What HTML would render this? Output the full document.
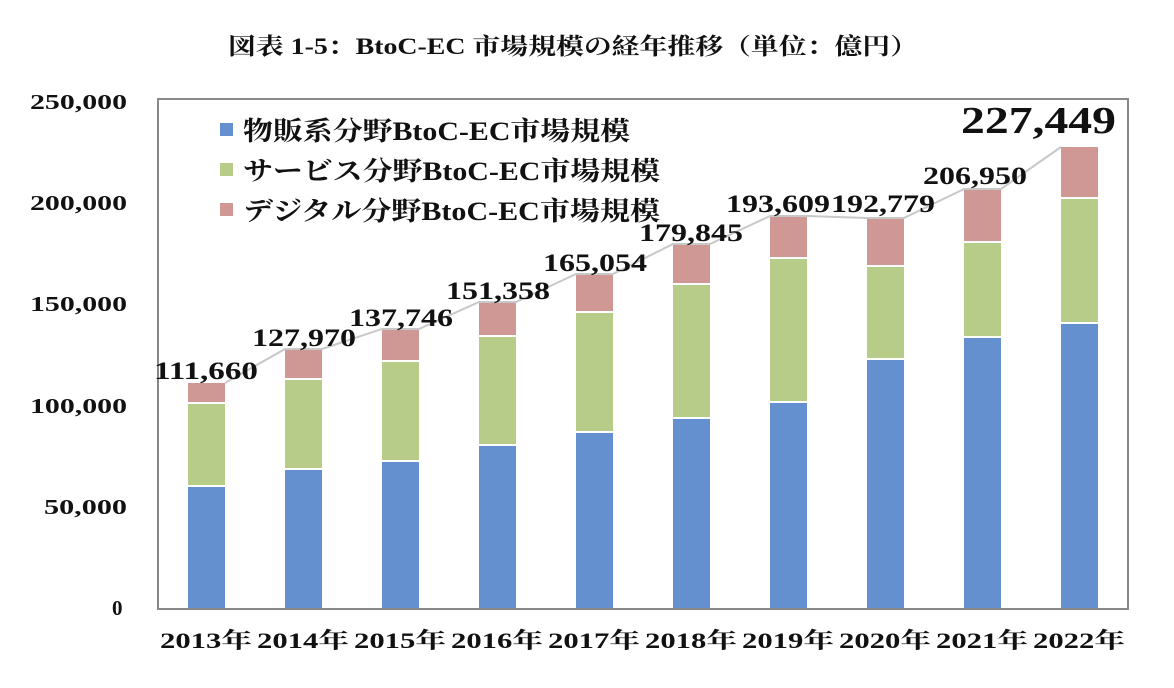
<!DOCTYPE html>
<html><head><meta charset="utf-8"><style>
html,body{margin:0;padding:0;background:#fff;}
svg{display:block;font-family:"Liberation Serif","Noto Serif CJK SC",serif;}
</style></head><body>
<svg width="1174" height="688" viewBox="0 0 1174 688" xmlns="http://www.w3.org/2000/svg">
<text x="228" y="54" textLength="690" lengthAdjust="spacingAndGlyphs" font-size="23" font-weight="bold" fill="#111">図表 1-5：BtoC-EC 市場規模の経年推移（単位：億円）</text>
<rect x="158" y="99" width="970" height="510" fill="none" stroke="#888" stroke-width="2"/>
<g font-size="21" font-weight="bold" fill="#111">
<text x="112" y="615">0</text>
<text x="44" y="514" textLength="83" lengthAdjust="spacingAndGlyphs">50,000</text>
<text x="30" y="413" textLength="97" lengthAdjust="spacingAndGlyphs">100,000</text>
<text x="30" y="311" textLength="97" lengthAdjust="spacingAndGlyphs">150,000</text>
<text x="30" y="210" textLength="97" lengthAdjust="spacingAndGlyphs">200,000</text>
<text x="30" y="109" textLength="97" lengthAdjust="spacingAndGlyphs">250,000</text>
</g>
<g>
<rect x="188" y="487" width="37" height="121" fill="#6490d0"/><rect x="188" y="404" width="37" height="81" fill="#b8cc8a"/><rect x="188" y="383" width="37" height="19" fill="#d09894"/>
<rect x="285" y="470" width="37" height="138" fill="#6490d0"/><rect x="285" y="380" width="37" height="88" fill="#b8cc8a"/><rect x="285" y="349" width="37" height="29" fill="#d09894"/>
<rect x="382" y="462" width="37" height="146" fill="#6490d0"/><rect x="382" y="362" width="37" height="98" fill="#b8cc8a"/><rect x="382" y="329" width="37" height="31" fill="#d09894"/>
<rect x="479" y="446" width="37" height="162" fill="#6490d0"/><rect x="479" y="337" width="37" height="107" fill="#b8cc8a"/><rect x="479" y="302" width="37" height="33" fill="#d09894"/>
<rect x="576" y="433" width="37" height="175" fill="#6490d0"/><rect x="576" y="313" width="37" height="118" fill="#b8cc8a"/><rect x="576" y="274" width="37" height="37" fill="#d09894"/>
<rect x="673" y="419" width="37" height="189" fill="#6490d0"/><rect x="673" y="285" width="37" height="132" fill="#b8cc8a"/><rect x="673" y="244" width="37" height="39" fill="#d09894"/>
<rect x="770" y="403" width="37" height="205" fill="#6490d0"/><rect x="770" y="259" width="37" height="142" fill="#b8cc8a"/><rect x="770" y="216" width="37" height="41" fill="#d09894"/>
<rect x="867" y="360" width="37" height="248" fill="#6490d0"/><rect x="867" y="267" width="37" height="91" fill="#b8cc8a"/><rect x="867" y="218" width="37" height="47" fill="#d09894"/>
<rect x="964" y="338" width="37" height="270" fill="#6490d0"/><rect x="964" y="243" width="37" height="93" fill="#b8cc8a"/><rect x="964" y="189" width="37" height="52" fill="#d09894"/>
<rect x="1061" y="324" width="37" height="284" fill="#6490d0"/><rect x="1061" y="199" width="37" height="123" fill="#b8cc8a"/><rect x="1061" y="147" width="37" height="50" fill="#d09894"/>
</g>
<polyline fill="none" stroke="#c8c8c8" stroke-width="2" points="225,383 285,349 322,349 382,329 419,329 479,302 516,302 576,274 613,274 673,244 710,244 770,216 807,216 867,218 904,218 964,189 1001,189 1061,147"/>
<g font-size="25" font-weight="bold" fill="#111">
<text x="154" y="379" textLength="104" lengthAdjust="spacingAndGlyphs">111,660</text>
<text x="252" y="346" textLength="104" lengthAdjust="spacingAndGlyphs">127,970</text>
<text x="349" y="326" textLength="104" lengthAdjust="spacingAndGlyphs">137,746</text>
<text x="446" y="299" textLength="104" lengthAdjust="spacingAndGlyphs">151,358</text>
<text x="543" y="271" textLength="104" lengthAdjust="spacingAndGlyphs">165,054</text>
<text x="639" y="241" textLength="104" lengthAdjust="spacingAndGlyphs">179,845</text>
<text x="726" y="212" textLength="104" lengthAdjust="spacingAndGlyphs">193,609</text>
<text x="831" y="212" textLength="104" lengthAdjust="spacingAndGlyphs">192,779</text>
<text x="923" y="184" textLength="104" lengthAdjust="spacingAndGlyphs">206,950</text>
<text x="961" y="133" font-size="38" textLength="155" lengthAdjust="spacingAndGlyphs">227,449</text>
</g>
<g font-size="22" font-weight="bold" fill="#111">
<text x="160" y="648" textLength="92" lengthAdjust="spacingAndGlyphs">2013年</text>
<text x="257" y="648" textLength="92" lengthAdjust="spacingAndGlyphs">2014年</text>
<text x="354" y="648" textLength="92" lengthAdjust="spacingAndGlyphs">2015年</text>
<text x="451" y="648" textLength="92" lengthAdjust="spacingAndGlyphs">2016年</text>
<text x="548" y="648" textLength="92" lengthAdjust="spacingAndGlyphs">2017年</text>
<text x="645" y="648" textLength="92" lengthAdjust="spacingAndGlyphs">2018年</text>
<text x="742" y="648" textLength="92" lengthAdjust="spacingAndGlyphs">2019年</text>
<text x="839" y="648" textLength="92" lengthAdjust="spacingAndGlyphs">2020年</text>
<text x="936" y="648" textLength="92" lengthAdjust="spacingAndGlyphs">2021年</text>
<text x="1033" y="648" textLength="92" lengthAdjust="spacingAndGlyphs">2022年</text>
</g>
<rect x="220" y="123" width="13" height="13" fill="#6490d0"/>
<rect x="220" y="163" width="13" height="13" fill="#b8cc8a"/>
<rect x="220" y="203" width="13" height="13" fill="#d09894"/>
<g font-size="26" font-weight="bold" fill="#111">
<text x="243" y="140" textLength="387" lengthAdjust="spacingAndGlyphs">物販系分野BtoC-EC市場規模</text>
<text x="243" y="180" textLength="417" lengthAdjust="spacingAndGlyphs">サービス分野BtoC-EC市場規模</text>
<text x="243" y="220" textLength="417" lengthAdjust="spacingAndGlyphs">デジタル分野BtoC-EC市場規模</text>
</g>
</svg>
</body></html>
